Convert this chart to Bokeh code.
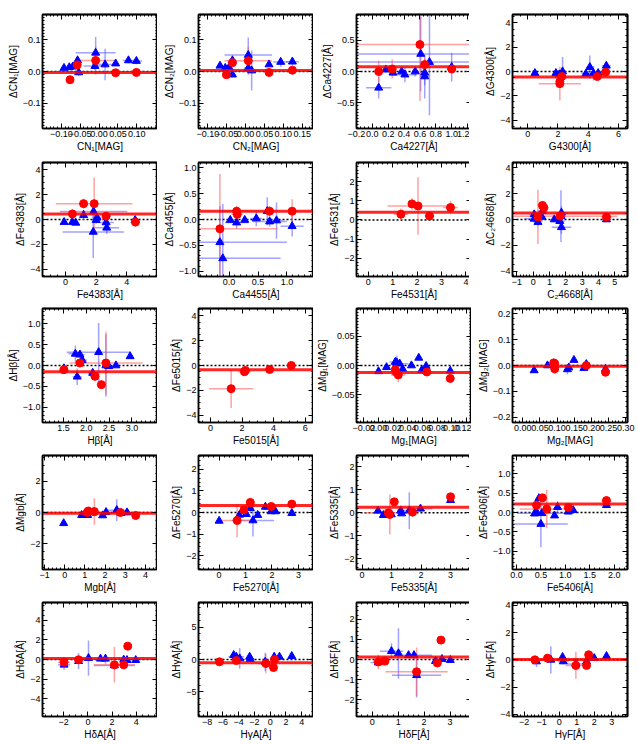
import numpy as np
from bokeh.plotting import figure
from bokeh.layouts import gridplot
from bokeh.models import (LinearAxis, FixedTicker, CustomJSTickFormatter, Span,
                          Range1d, ColumnDataSource)
from bokeh.embed import file_html
from bokeh.resources import INLINE

# ---------------- data ----------------
# 1 CN1
cn1_bx = [-0.093, -0.079, -0.070, -0.057, -0.054, -0.009, -0.011, 0.016, 0.044, 0.078, 0.099]
cn1_by = [0.011, 0.013, 0.015, 0.035, -0.003, 0.059, 0.017, 0.022, 0.025, 0.035, 0.033]
cn1_bxe = [0.004, 0.004, 0.004, 0.006, 0.008, 0.053, 0.03, 0.035, 0.008, 0.015, 0.015]
cn1_bye = [0.004, 0.004, 0.004, 0.008, 0.012, 0.05, 0.012, 0.05, 0.006, 0.01, 0.01]
cn1_rx = [-0.077, -0.058, -0.009, 0.044, 0.099]
cn1_ry = [-0.026, 0.021, 0.035, -0.004, -0.003]
cn1_rxe = [0.004, 0.006, 0.05, 0.008, 0.008]
cn1_rye = [0.004, 0.01, 0.045, 0.006, 0.01]
cn1_mean = -0.003
# 2 CN2
cn2_bx = [-0.068, -0.054, -0.044, -0.035, -0.035, 0.007, 0.007, 0.016, 0.062, 0.093, 0.124]
cn2_by = [0.018, 0.011, 0.013, 0.035, -0.01, 0.052, 0.011, 0.003, 0.022, 0.03, 0.031]
cn2_bxe = [0.004, 0.004, 0.004, 0.006, 0.01, 0.063, 0.012, 0.02, 0.006, 0.02, 0.017]
cn2_bye = [0.004, 0.004, 0.004, 0.008, 0.008, 0.055, 0.01, 0.063, 0.006, 0.015, 0.012]
cn2_rx = [-0.051, -0.035, 0.007, 0.062, 0.124]
cn2_ry = [-0.01, 0.028, 0.034, -0.003, 0.004]
cn2_rxe = [0.005, 0.008, 0.063, 0.006, 0.008]
cn2_rye = [0.006, 0.008, 0.045, 0.006, 0.008]
cn2_mean = 0.003
# 3 Ca4227
ca4227_bx = [0.08, 0.17, 0.26, 0.37, 0.41, 0.54, 0.61, 0.66, 0.66, 0.72, 1.0]
ca4227_by = [-0.26, 0.03, -0.02, 0.0, -0.05, 0.0, 0.28, -0.02, -0.08, 0.15, 0.07]
ca4227_bxe = [0.16, 0.03, 0.04, 0.03, 0.15, 0.04, 2.0, 0.04, 0.06, 2.0, 0.05]
ca4227_bye = [0.17, 0.03, 0.05, 0.05, 0.12, 0.08, 0.6, 0.2, 0.35, 0.85, 0.23]
ca4227_rx = [0.08, 0.25, 0.6, 0.66, 1.0]
ca4227_ry = [0.0, 0.04, 0.43, 0.11, 0.04]
ca4227_rxe = [0.03, 0.04, 2.0, 0.06, 0.05]
ca4227_rye = [0.17, 0.15, 0.9, 0.1, 0.06]
ca4227_mean = 0.075
# 4 G4300
g4300_bx = [0.48, 1.87, 2.09, 2.31, 3.85, 4.11, 4.35, 4.66, 5.2]
g4300_by = [-0.14, -0.14, -0.25, 0.0, -0.19, 0.36, -0.14, -0.14, 0.47]
g4300_bxe = [0.15, 0.15, 0.2, 0.2, 0.2, 0.25, 0.8, 0.2, 0.3]
g4300_bye = [0.1, 0.1, 0.15, 1.2, 0.1, 0.95, 0.6, 0.2, 0.2]
g4300_rx = [2.13, 2.13, 2.26, 4.6, 5.16]
g4300_ry = [-0.83, -1.0, -0.41, -0.41, -0.05]
g4300_rxe = [0.1, 1.4, 0.15, 0.2, 0.15]
g4300_rye = [0.3, 1.4, 0.2, 0.2, 0.3]
g4300_mean = -0.45
# 5 Fe4383
fe4383_bx = [-0.09, 0.45, 0.67, 1.18, 1.83, 1.81, 2.0, 2.06, 2.65, 2.69, 4.54]
fe4383_by = [-0.21, -0.21, -0.27, 0.35, 0.64, -1.0, -0.05, 0.16, -0.24, -0.67, -0.05]
fe4383_bxe = [0.1, 0.15, 0.15, 0.2, 2.2, 2.0, 0.3, 0.3, 0.5, 0.8, 0.2]
fe4383_bye = [0.1, 0.1, 0.1, 0.4, 0.5, 2.1, 0.3, 0.3, 0.3, 0.5, 0.3]
fe4383_rx = [0.45, 1.18, 1.87, 2.65, 4.56]
fe4383_ry = [0.45, 1.28, 1.28, 0.27, -0.21]
fe4383_rxe = [0.3, 0.3, 2.5, 0.2, 0.3]
fe4383_rye = [0.4, 0.4, 2.1, 0.3, 0.4]
fe4383_mean = 0.45
# 6 Ca4455
ca4455_bx = [-0.16, -0.11, 0.02, 0.13, 0.27, 0.47, 0.66, 0.7, 0.82, 1.09]
ca4455_by = [-0.44, -0.75, -0.01, -0.06, -0.01, 0.02, 0.16, -0.04, -0.02, -0.13]
ca4455_bxe = [1.16, 1.0, 0.06, 0.2, 0.05, 0.1, 0.06, 0.3, 0.1, 0.2]
ca4455_bye = [0.7, 1.05, 0.05, 0.12, 0.04, 0.15, 0.27, 0.1, 0.35, 0.2]
ca4455_rx = [-0.16, 0.13, 0.14, 0.7, 1.09]
ca4455_ry = [-0.18, 0.16, 0.10, 0.16, 0.16]
ca4455_rxe = [1.0, 0.25, 0.1, 0.1, 0.08]
ca4455_rye = [1.06, 0.1, 0.1, 0.1, 0.23]
ca4455_mean = 0.16
# 7 Fe4531 (no blue points)
fe4531_bx = []
fe4531_by = []
fe4531_bxe = []
fe4531_bye = []
fe4531_rx = [1.34, 1.79, 2.04, 2.51, 3.37]
fe4531_ry = [0.3, 0.84, 0.73, 0.21, 0.65]
fe4531_rxe = [0.3, 0.15, 1.25, 0.2, 0.3]
fe4531_rye = [0.3, 0.3, 1.5, 0.15, 0.35]
fe4531_mean = 0.4
# 8 C2 4668
c24668_bx = [0.06, 0.06, 0.29, 0.53, 0.57, 1.29, 1.63, 1.73, 1.7, 1.73, 4.49]
c24668_by = [0.39, 0.05, -0.2, 0.2, 0.65, 0.0, -0.13, 0.52, 0.26, -0.6, 0.0]
c24668_bxe = [0.3, 0.6, 0.2, 0.2, 0.3, 0.15, 0.3, 0.4, 0.3, 0.6, 0.3]
c24668_bye = [0.3, 0.3, 0.3, 0.4, 0.3, 0.15, 0.3, 0.5, 2.0, 0.5, 0.2]
c24668_rx = [0.29, 0.57, 0.65, 1.65, 4.49]
c24668_ry = [0.2, 1.09, 0.91, 0.26, 0.2]
c24668_rxe = [0.3, 0.3, 0.3, 3.5, 0.3]
c24668_rye = [2.1, 0.3, 0.3, 0.4, 0.3]
c24668_mean = 0.5
# 9 Hbeta
hb_bx = [1.51, 1.76, 1.86, 1.8, 1.91, 2.27, 2.14, 2.43, 2.49, 2.65, 2.96]
hb_by = [-0.07, 0.28, 0.26, -0.27, 0.13, 0.32, -0.18, 0.0, -0.02, 0.0, 0.22]
hb_bxe = [0.05, 0.15, 0.1, 0.1, 0.1, 0.7, 0.1, 0.05, 0.05, 0.05, 0.05]
hb_bye = [0.05, 0.2, 0.1, 0.2, 0.1, 0.7, 0.1, 0.75, 0.05, 0.05, 0.05]
hb_rx = [1.51, 1.86, 2.19, 2.43, 2.33]
hb_ry = [-0.1, 0.06, -0.26, 0.06, -0.46]
hb_rxe = [0.05, 0.1, 0.1, 0.8, 0.1]
hb_rye = [0.08, 0.1, 0.1, 0.75, 0.1]
hb_mean = -0.15
# 10 Fe5015 (no blue points)
fe5015_bx = []
fe5015_by = []
fe5015_bxe = []
fe5015_bye = []
fe5015_rx = [1.31, 2.15, 2.21, 3.75, 5.12]
fe5015_ry = [-1.87, -0.5, -0.4, -0.32, 0.0]
fe5015_rxe = [1.4, 0.4, 0.2, 0.2, 0.2]
fe5015_rye = [1.55, 0.3, 0.3, 0.2, 0.3]
fe5015_mean = -0.35
# 11 Mg1
mg1_bx = [0.0, 0.011, 0.023, 0.025, 0.029, 0.033, 0.045, 0.055, 0.059, 0.065, 0.098]
mg1_by = [-0.01, -0.003, 0.006, 0.005, 0.003, -0.006, 0.0, 0.013, -0.008, -0.001, -0.009]
mg1_bxe = [0.002, 0.002, 0.008, 0.004, 0.012, 0.004, 0.003, 0.002, 0.002, 0.002, 0.002]
mg1_bye = [0.002, 0.002, 0.006, 0.012, 0.004, 0.006, 0.002, 0.002, 0.002, 0.003, 0.002]
mg1_rx = [0.023, 0.024, 0.027, 0.066, 0.098]
mg1_ry = [-0.007, -0.011, -0.016, -0.011, -0.022]
mg1_rxe = [0.003, 0.003, 0.01, 0.003, 0.002]
mg1_rye = [0.003, 0.003, 0.012, 0.002, 0.003]
mg1_mean = -0.012
# 12 Mg2
mg2_bx = [0.033, 0.072, 0.09, 0.13, 0.134, 0.149, 0.178, 0.185, 0.241]
mg2_by = [-0.019, 0.0, 0.008, -0.015, -0.008, 0.021, -0.01, 0.005, -0.013]
mg2_bxe = [0.003, 0.004, 0.01, 0.01, 0.008, 0.004, 0.004, 0.004, 0.003]
mg2_bye = [0.004, 0.004, 0.01, 0.02, 0.01, 0.005, 0.005, 0.005, 0.005]
mg2_rx = [0.09, 0.093, 0.093, 0.185, 0.241]
mg2_ry = [0.01, 0.008, -0.013, 0.0, -0.026]
mg2_rxe = [0.006, 0.006, 0.006, 0.006, 0.003]
mg2_rye = [0.01, 0.006, 0.02, 0.005, 0.008]
mg2_mean = -0.003
# 13 Mgb
mgb_bx = [-0.05, 0.84, 1.14, 1.42, 1.88, 2.05, 2.58, 2.79, 3.09]
mgb_by = [-0.69, -0.17, -0.17, 0.0, -0.19, 0.02, 0.15, -0.04, 0.0]
mgb_bxe = [0.05, 0.1, 0.1, 0.3, 0.1, 0.2, 0.6, 0.2, 0.1]
mgb_bye = [0.05, 0.1, 0.1, 0.2, 0.1, 0.2, 0.7, 0.2, 0.2]
mgb_rx = [1.11, 1.17, 1.47, 2.76, 3.52]
mgb_ry = [0.0, 0.1, 0.06, 0.0, -0.19]
mgb_rxe = [0.1, 0.1, 0.15, 0.15, 0.1]
mgb_rye = [0.2, 0.2, 0.85, 0.2, 0.15]
mgb_mean = -0.05
# 14 Fe5270
fe5270_bx = [0.0, 0.77, 1.03, 1.18, 1.28, 1.46, 1.75, 1.97, 2.13, 2.75]
fe5270_by = [-0.39, -0.11, -0.08, 0.2, -0.37, -0.12, 0.26, 0.05, 0.05, -0.03]
fe5270_bxe = [0.05, 0.05, 0.05, 0.1, 0.8, 0.05, 0.1, 0.1, 0.1, 0.1]
fe5270_bye = [0.05, 0.1, 0.1, 0.2, 0.75, 0.1, 0.15, 0.1, 0.1, 0.15]
fe5270_rx = [0.68, 0.94, 1.18, 1.97, 2.75]
fe5270_ry = [-0.37, 0.12, 0.47, 0.28, 0.39]
fe5270_rxe = [0.6, 0.1, 0.15, 0.1, 0.1]
fe5270_rye = [0.78, 0.2, 0.1, 0.1, 0.1]
fe5270_mean = 0.32
# 15 Fe5335
fe5335_bx = [0.54, 0.72, 0.89, 0.99, 1.31, 1.34, 1.6, 1.98, 3.0]
fe5335_by = [0.09, -0.1, -0.03, -0.07, 0.1, -0.03, 0.1, 0.18, 0.55]
fe5335_bxe = [0.05, 0.1, 0.1, 0.1, 0.1, 0.1, 0.4, 0.4, 0.1]
fe5335_bye = [0.05, 0.1, 0.1, 0.1, 0.1, 0.1, 0.8, 0.15, 0.1]
fe5335_rx = [0.89, 1.09, 0.94, 1.71, 3.0]
fe5335_ry = [0.0, 0.48, -0.07, 0.03, 0.7]
fe5335_rxe = [0.8, 0.1, 0.1, 0.1, 0.1]
fe5335_rye = [0.1, 0.1, 0.87, 0.1, 0.15]
fe5335_mean = 0.24
# 16 Fe5406
fe5406_bx = [0.37, 0.41, 0.46, 0.52, 0.5, 0.78, 0.84, 1.06, 1.16, 1.84]
fe5406_by = [-0.03, 0.02, 0.37, -0.02, -0.3, -0.08, 0.14, 0.02, 0.06, 0.19]
fe5406_bxe = [0.03, 0.03, 0.05, 0.5, 0.55, 0.05, 0.05, 0.05, 0.05, 0.1]
fe5406_bye = [0.05, 0.05, 0.05, 0.05, 0.6, 0.05, 0.15, 0.05, 0.1, 0.05]
fe5406_rx = [0.41, 0.53, 0.62, 1.06, 1.84]
fe5406_ry = [0.19, 0.38, 0.09, 0.13, 0.31]
fe5406_rxe = [0.05, 0.1, 0.55, 0.05, 0.1]
fe5406_rye = [0.05, 0.05, 0.5, 0.05, 0.1]
fe5406_mean = 0.22
# 17 HdeltaA
hda_bx = [-1.97, -0.77, 0.05, 1.04, 1.45, 2.19, 2.96, 3.23, 3.95]
hda_by = [-0.54, -0.17, 0.14, 0.07, 0.07, -0.61, -0.03, -0.07, -0.07]
hda_bxe = [0.5, 0.3, 0.2, 0.2, 0.2, 1.7, 0.2, 0.3, 0.2]
hda_bye = [0.5, 0.8, 1.8, 0.2, 0.5, 0.4, 0.3, 0.3, 0.2]
hda_rx = [-1.97, -0.77, 2.19, 2.96, 3.29]
hda_ry = [-0.27, -0.03, -0.54, -0.54, 1.36]
hda_rxe = [0.5, 0.3, 1.7, 0.3, 0.3]
hda_rye = [0.5, 0.3, 1.8, 0.3, 0.2]
hda_mean = 0.1
# 18 HgammaA
hga_bx = [-4.63, -4.3, -3.87, -2.61, -2.53, -0.63, 0.51, 1.18, 2.74]
hga_by = [0.67, 0.41, 0.16, 0.41, 0.05, -0.36, 0.41, 0.41, 0.52]
hga_bxe = [0.4, 1.0, 0.3, 0.3, 0.3, 0.3, 0.3, 0.3, 0.2]
hga_bye = [0.3, 0.3, 1.6, 0.4, 0.4, 1.4, 0.3, 0.3, 0.3]
hga_rx = [-6.44, -4.3, -0.55, 0.42, 0.55]
hga_ry = [-0.36, -0.16, -0.62, -1.24, 0.0]
hga_rxe = [0.3, 0.4, 1.0, 0.3, 0.3]
hga_rye = [0.3, 0.3, 1.5, 0.3, 0.4]
hga_mean = -0.5
# 19 HdeltaF
hdf_bx = [0.23, 0.74, 1.01, 1.4, 1.61, 1.71, 2.44, 2.69, 3.01]
hdf_by = [-0.15, 0.41, 0.3, 0.21, 0.21, -0.78, -0.08, 0.02, -0.03]
hdf_bxe = [0.3, 0.45, 0.1, 0.1, 0.7, 0.95, 0.1, 0.1, 0.1]
hdf_bye = [0.1, 0.4, 1.25, 0.1, 0.2, 1.1, 0.1, 0.1, 0.1]
hdf_rx = [0.23, 0.49, 1.71, 2.51, 2.65]
hdf_ry = [-0.12, -0.08, -0.61, -0.17, 0.96]
hdf_rxe = [0.2, 0.1, 1.2, 0.15, 0.15]
hdf_rye = [0.35, 0.1, 1.2, 0.15, 0.15]
hdf_mean = 0.12
# 20 HgammaF
hgf_bx = [-1.3, -0.48, 0.19, 0.23, 0.95, 1.56, 2.0, 2.7]
hgf_by = [-0.12, 0.0, 0.2, -0.12, -0.3, -0.12, 0.12, 0.27]
hgf_bxe = [0.2, 0.2, 0.1, 0.3, 0.5, 0.1, 0.1, 0.1]
hgf_bye = [0.4, 1.0, 0.2, 0.2, 0.3, 0.2, 0.2, 0.2]
hgf_rx = [-1.39, -0.67, 0.95, 1.56, 1.68]
hgf_ry = [0.0, 0.12, -0.41, -0.41, 0.37]
hgf_rxe = [0.2, 0.15, 0.6, 0.15, 0.15]
hgf_rye = [0.15, 0.15, 1.0, 0.15, 0.15]
hgf_mean = 0.02

# axis labels
x_labels = ["CN₁[MAG]", "CN₂[MAG]", "Ca4227[Å]", "G4300[Å]",
            "Fe4383[Å]", "Ca4455[Å]", "Fe4531[Å]", "C₂4668[Å]",
            "Hβ[Å]", "Fe5015[Å]", "Mg₁[MAG]", "Mg₂[MAG]",
            "Mgb[Å]", "Fe5270[Å]", "Fe5335[Å]", "Fe5406[Å]",
            "HδA[Å]", "HγA[Å]", "HδF[Å]", "HγF[Å]"]
y_labels = ["Δ" + s for s in x_labels]

# tick values
x_ticks = [[-0.10, -0.05, 0.0, 0.05, 0.10], [-0.10, -0.05, 0.0, 0.05, 0.10, 0.15],
           [-0.2, 0.0, 0.2, 0.4, 0.6, 0.8, 1.0, 1.2], [0, 2, 4, 6],
           [0, 2, 4], [0.0, 0.5, 1.0], [0, 1, 2, 3, 4], [-1, 0, 1, 2, 3, 4, 5],
           [1.5, 2.0, 2.5, 3.0], [0, 2, 4, 6],
           [-0.02, 0.0, 0.02, 0.04, 0.06, 0.08, 0.10, 0.12],
           [0.0, 0.05, 0.10, 0.15, 0.20, 0.25, 0.30],
           [-1, 0, 1, 2, 3, 4], [0, 1, 2, 3], [0, 1, 2, 3], [0.0, 0.5, 1.0, 1.5, 2.0],
           [-2, 0, 2, 4], [-8, -6, -4, -2, 0, 2, 4], [0, 1, 2, 3], [-2, -1, 0, 1, 2, 3]]
y_ticks = [[-0.1, 0.0, 0.1], [-0.1, 0.0, 0.1], [-0.5, 0.0, 0.5], [-4, -2, 0, 2, 4],
           [-4, -2, 0, 2, 4], [-1.0, -0.5, 0.0, 0.5, 1.0], [-2, -1, 0, 1, 2], [-4, -2, 0, 2, 4],
           [-1.0, -0.5, 0.0, 0.5, 1.0], [-4, -2, 0, 2, 4], [-0.05, 0.0, 0.05],
           [-0.2, -0.1, 0.0, 0.1, 0.2],
           [-2, 0, 2], [-2, -1, 0, 1, 2], [-2, -1, 0, 1, 2], [-1.0, -0.5, 0.0, 0.5, 1.0],
           [-4, -2, 0, 2, 4], [-5, 0, 5], [-2, -1, 0, 1, 2], [-4, -2, 0, 2, 4]]
x_dec = [2, 2, 1, 0, 0, 1, 0, 0, 1, 0, 2, 2, 0, 0, 0, 1, 0, 0, 0, 0]
y_dec = [1, 1, 1, 0, 0, 1, 0, 0, 1, 0, 2, 1, 0, 0, 0, 1, 0, 0, 0, 0]

# panel layout (ranges and minor tick step)
PANELS = [
    (cn1_bx, cn1_by, cn1_bxe, cn1_bye, cn1_rx, cn1_ry, cn1_rxe, cn1_rye, cn1_mean, (-0.15, 0.155), (-0.18, 0.18), 0.01, 0.01),
    (cn2_bx, cn2_by, cn2_bxe, cn2_bye, cn2_rx, cn2_ry, cn2_rxe, cn2_rye, cn2_mean, (-0.125, 0.18), (-0.18, 0.18), 0.01, 0.01),
    (ca4227_bx, ca4227_by, ca4227_bxe, ca4227_bye, ca4227_rx, ca4227_ry, ca4227_rxe, ca4227_rye, ca4227_mean, (-0.2, 1.25), (-0.91, 0.91), 0.05, 0.05),
    (g4300_bx, g4300_by, g4300_bxe, g4300_bye, g4300_rx, g4300_ry, g4300_rxe, g4300_rye, g4300_mean, (-1.0, 6.6), (-4.7, 4.7), 0.5, 0.5),
    (fe4383_bx, fe4383_by, fe4383_bxe, fe4383_bye, fe4383_rx, fe4383_ry, fe4383_rxe, fe4383_rye, fe4383_mean, (-1.5, 6.0), (-4.6, 4.6), 0.5, 0.5),
    (ca4455_bx, ca4455_by, ca4455_bxe, ca4455_bye, ca4455_rx, ca4455_ry, ca4455_rxe, ca4455_rye, ca4455_mean, (-0.53, 1.46), (-1.1, 1.1), 0.1, 0.1),
    (fe4531_bx, fe4531_by, fe4531_bxe, fe4531_bye, fe4531_rx, fe4531_ry, fe4531_rxe, fe4531_rye, fe4531_mean, (-0.48, 4.23), (-2.95, 3.0), 0.2, 0.2),
    (c24668_bx, c24668_by, c24668_bxe, c24668_bye, c24668_rx, c24668_ry, c24668_rxe, c24668_rye, c24668_mean, (-1.27, 5.78), (-4.4, 4.4), 0.2, 0.5),
    (hb_bx, hb_by, hb_bxe, hb_bye, hb_rx, hb_ry, hb_rxe, hb_rye, hb_mean, (1.04, 3.56), (-1.37, 1.37), 0.1, 0.1),
    (fe5015_bx, fe5015_by, fe5015_bxe, fe5015_bye, fe5015_rx, fe5015_ry, fe5015_rxe, fe5015_rye, fe5015_mean, (-0.76, 6.53), (-4.6, 4.6), 0.5, 0.5),
    (mg1_bx, mg1_by, mg1_bxe, mg1_bye, mg1_rx, mg1_ry, mg1_rxe, mg1_rye, mg1_mean, (-0.03, 0.127), (-0.097, 0.097), 0.005, 0.005),
    (mg2_bx, mg2_by, mg2_bxe, mg2_bye, mg2_rx, mg2_ry, mg2_rxe, mg2_rye, mg2_mean, (-0.03, 0.305), (-0.22, 0.22), 0.01, 0.02),
    (mgb_bx, mgb_by, mgb_bxe, mgb_bye, mgb_rx, mgb_ry, mgb_rxe, mgb_rye, mgb_mean, (-1.1, 4.6), (-3.65, 3.65), 0.2, 0.5),
    (fe5270_bx, fe5270_by, fe5270_bxe, fe5270_bye, fe5270_rx, fe5270_ry, fe5270_rxe, fe5270_rye, fe5270_mean, (-0.78, 3.57), (-2.65, 2.65), 0.2, 0.2),
    (fe5335_bx, fe5335_by, fe5335_bxe, fe5335_bye, fe5335_rx, fe5335_ry, fe5335_rxe, fe5335_rye, fe5335_mean, (-0.19, 3.71), (-2.47, 2.5), 0.2, 0.2),
    (fe5406_bx, fe5406_by, fe5406_bxe, fe5406_bye, fe5406_rx, fe5406_ry, fe5406_rxe, fe5406_rye, fe5406_mean, (-0.08, 2.27), (-1.48, 1.48), 0.1, 0.1),
    (hda_bx, hda_by, hda_bxe, hda_bye, hda_rx, hda_ry, hda_rxe, hda_rye, hda_mean, (-3.75, 5.75), (-5.8, 5.8), 0.5, 0.5),
    (hga_bx, hga_by, hga_bxe, hga_bye, hga_rx, hga_ry, hga_rxe, hga_rye, hga_mean, (-9.1, 5.5), (-8.8, 8.8), 0.5, 1.0),
    (hdf_bx, hdf_by, hdf_bxe, hdf_bye, hdf_rx, hdf_ry, hdf_rxe, hdf_rye, hdf_mean, (-0.61, 3.83), (-2.82, 2.82), 0.2, 0.2),
    (hgf_bx, hgf_by, hgf_bxe, hgf_bye, hgf_rx, hgf_ry, hgf_rxe, hgf_rye, hgf_mean, (-2.67, 3.9), (-4.15, 4.2), 0.2, 0.5),
]

FONT = "Liberation Sans"
TICK_FS = "9px"
LABEL_FS = "10px"

# borders per column / row so that the plot frames land where the reference has them
BORDER_LEFT = [42, 41, 41, 41]
BORDER_RIGHT = [0, 0, 0, 10]
BORDER_TOP = [14, 7, 6, 6, 6]
BORDER_BOTTOM = [27, 26, 27, 27, 27]


def minor_ticks(lo, hi, step):
    start = np.ceil(lo / step) * step
    return [float(v) for v in np.arange(start, hi + step * 0.001, step)]


def fmt(dec):
    return CustomJSTickFormatter(args=dict(d=dec),
                                 code="return tick.toFixed(d).replace('-', '\\u2212');")


def style_common(ax):
    ax.axis_line_color = "black"
    ax.axis_line_width = 1.5
    ax.major_tick_out = 0
    ax.minor_tick_out = 0
    ax.major_tick_line_color = "black"
    ax.minor_tick_line_color = "black"
    ax.major_tick_line_width = 1
    ax.minor_tick_line_width = 1


def style_main(ax, ticks, minors, dec):
    style_common(ax)
    ax.ticker = FixedTicker(ticks=ticks, minor_ticks=minors)
    ax.major_tick_in = 5
    ax.minor_tick_in = 2
    ax.formatter = fmt(dec)
    ax.major_label_text_font = FONT
    ax.major_label_text_font_size = TICK_FS
    ax.major_label_text_color = "black"
    ax.major_label_standoff = 2
    ax.axis_label_text_font = FONT
    ax.axis_label_text_font_size = LABEL_FS
    ax.axis_label_text_font_style = "normal"
    ax.axis_label_text_color = "black"
    ax.axis_label_standoff = 1


def mirror_axis(positions, length):
    # an axis that only draws inward tick marks (no labels at all)
    ax = LinearAxis(ticker=FixedTicker(ticks=[], minor_ticks=positions))
    style_common(ax)
    ax.minor_tick_in = length
    ax.major_label_standoff = 0
    return ax


figs = []
for i, pan in enumerate(PANELS):
    row, col = divmod(i, 4)
    bx, by, bxe, bye, rx, ry, rxe, rye, mean, xr, yr, xm, ym = pan
    p = figure(frame_width=115, frame_height=114, x_range=Range1d(*xr), y_range=Range1d(*yr),
               output_backend="svg", toolbar_location=None,
               min_border_left=BORDER_LEFT[col], min_border_right=BORDER_RIGHT[col],
               min_border_top=BORDER_TOP[row], min_border_bottom=BORDER_BOTTOM[row])
    p.xgrid.visible = False
    p.ygrid.visible = False
    p.outline_line_color = "black"
    p.outline_line_width = 1.5
    p.xaxis.axis_label = x_labels[i]
    p.yaxis.axis_label = y_labels[i]
    xmin = minor_ticks(xr[0], xr[1], xm)
    ymin = minor_ticks(yr[0], yr[1], ym)
    style_main(p.xaxis[0], x_ticks[i], xmin, x_dec[i])
    style_main(p.yaxis[0], y_ticks[i], ymin, y_dec[i])
    p.add_layout(mirror_axis(xmin, 2), "above")
    p.add_layout(mirror_axis(x_ticks[i], 5), "above")
    p.add_layout(mirror_axis(ymin, 2), "right")
    p.add_layout(mirror_axis(y_ticks[i], 5), "right")

    p.add_layout(Span(location=0, dimension="width", line_color="black",
                      line_dash="2 2", line_width=1.5, level="underlay"))

    for xs, ys, xe, ye, ecol in ((bx, by, bxe, bye, "#5555ff"),
                                 (rx, ry, rxe, rye, "#ff5555")):
        if len(xs) == 0:
            continue
        xa, ya, xea, yea = (np.array(v, dtype=float) for v in (xs, ys, xe, ye))
        src = ColumnDataSource(dict(x=xa, y=ya, xl=xa - xea, xh=xa + xea,
                                    yl=ya - yea, yh=ya + yea))
        p.segment(x0="xl", y0="y", x1="xh", y1="y", source=src,
                  line_color=ecol, line_alpha=0.55, line_width=1.5)
        p.segment(x0="x", y0="yl", x1="x", y1="yh", source=src,
                  line_color=ecol, line_alpha=0.55, line_width=1.5)

    p.add_layout(Span(location=mean, dimension="width", line_color="red",
                      line_width=3, line_alpha=0.85, level="glyph"))

    if len(bx):
        p.scatter(x=bx, y=by, marker="triangle", size=8, fill_color="blue",
                  line_color="blue")
    p.scatter(x=rx, y=ry, marker="circle", size=8, fill_color="red",
              line_color="red")
    figs.append(p)

grid = gridplot(figs, ncols=4, toolbar_location=None)

open("out.html", "w").write(file_html(grid, INLINE))
